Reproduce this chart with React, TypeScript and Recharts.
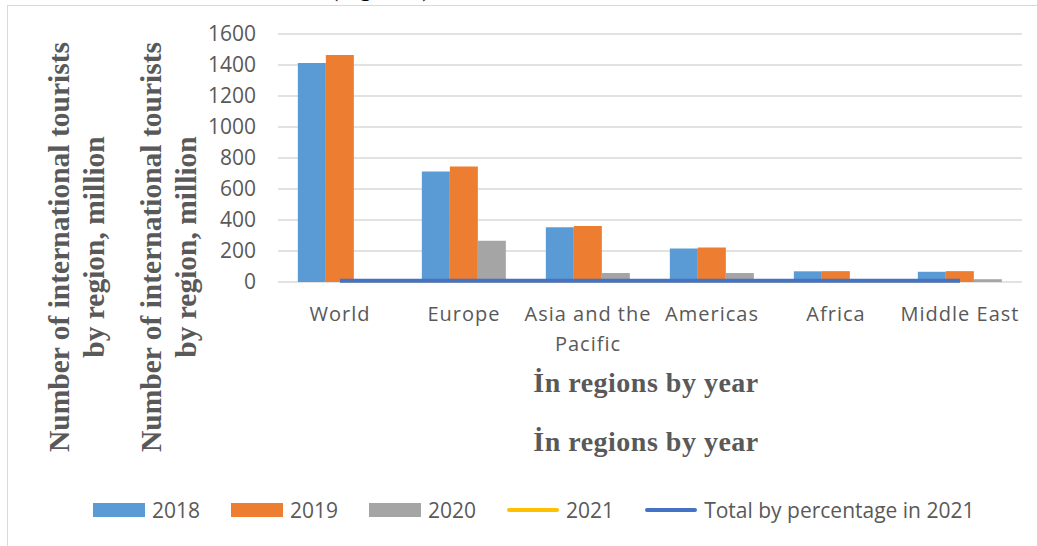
import { ComposedChart, Bar, Line, XAxis, YAxis, CartesianGrid, Legend } from 'recharts';

// international tourist arrivals, million
const regions = ['World', 'Europe', 'Asia and the Pacific', 'Americas', 'Africa', 'Middle East'];
const tourists2018 = [1413, 713, 353, 216, 69, 66];
const tourists2019 = [1465, 745, 362, 222, 70, 70];
const tourists2020 = [0, 266, 58, 58, 16, 18];
const tourists2021 = [6, 6, 6, 6, 6, 6];
const totalPct2021 = [8, 8, 8, 8, 8, 8];

const yTicks = [0, 200, 400, 600, 800, 1000, 1200, 1400, 1600];
const yTitleLines = ['Number of international tourists', 'by region, million'];
const xTitle = 'İn regions by year';

const seriesNames = ['2018', '2019', '2020', '2021', 'Total by percentage in 2021'];
const seriesKinds = ['bar', 'bar', 'bar', 'line', 'line'];
const colors = ['#5B9BD5', '#ED7D31', '#A5A5A5', '#FFC000', '#4472C4'];

const data = regions.map((region, i) => ({
  region,
  y2018: tourists2018[i],
  y2019: tourists2019[i],
  y2020: tourists2020[i],
  y2021: tourists2021[i],
  total: totalPct2021[i],
}));

const GREY = '#595959';
const SANS = "'Open Sans', sans-serif";
const SERIF = "'Liberation Serif', 'Times New Roman', serif";

function RegionTick({ x, y, payload }: any) {
  const label = String(payload.value);
  const words = label.split(' ');
  const lines = label.length > 14 ? [words.slice(0, -1).join(' '), words[words.length - 1]] : [label];
  return (
    <text x={x} y={y} textAnchor="middle" fill={GREY} fontSize={20} fontFamily={SANS} letterSpacing={1}>
      {lines.map((l, i) => (
        <tspan key={i} x={x} dy={i === 0 ? 39 : 30}>{l}</tspan>
      ))}
    </text>
  );
}

function LegendRow() {
  return (
    <div style={{ display: 'flex', alignItems: 'center', fontFamily: SANS, fontSize: 21, color: GREY, whiteSpace: 'nowrap' }}>
      {seriesNames.map((name, i) => (
        <div key={name} style={{ display: 'flex', alignItems: 'center', marginRight: 31 }}>
          {seriesKinds[i] === 'bar' ? (
            <span style={{ display: 'inline-block', width: 52, height: 14, background: colors[i] }} />
          ) : (
            <span style={{ display: 'inline-block', width: 52, height: 4, borderRadius: 2, background: colors[i] }} />
          )}
          <span style={{ marginLeft: 7 }}>{name}</span>
        </div>
      ))}
    </div>
  );
}

export default function App() {
  return (
    <div style={{ position: 'absolute', left: 0, top: 0, width: 1037, height: 546, overflow: 'hidden', background: '#fff' }}>
      <div style={{ position: 'absolute', left: 330, top: -26, fontFamily: SERIF, fontSize: 25, color: '#000', whiteSpace: 'nowrap' }}>
        (Figure 1)
      </div>
      <div style={{ position: 'absolute', left: 7, top: 5, width: 1100, height: 600, border: '1px solid #D9D9D9' }} />
      <div style={{ position: 'absolute', left: 0, top: 0 }}>
        <ComposedChart
          width={1037}
          height={546}
          data={data}
          margin={{ top: 34, right: 15, bottom: 204, left: 218 }}
          barCategoryGap="16%"
          barGap={0}
        >
          <CartesianGrid vertical={false} stroke="#D9D9D9" strokeWidth={1.5} />
          <XAxis
            dataKey="region"
            axisLine={false}
            tickLine={false}
            tickSize={0}
            tickMargin={0}
            interval={0}
            height={60}
            tick={<RegionTick />}
          />
          <YAxis
            domain={[0, 1600]}
            ticks={yTicks}
            axisLine={false}
            tickLine={false}
            tickSize={0}
            tickMargin={22}
            width={60}
            tick={{ fill: GREY, fontSize: 21, fontFamily: SANS }}
          />
          <Bar dataKey="y2018" name={seriesNames[0]} fill={colors[0]} isAnimationActive={false} />
          <Bar dataKey="y2019" name={seriesNames[1]} fill={colors[1]} isAnimationActive={false} />
          <Bar dataKey="y2020" name={seriesNames[2]} fill={colors[2]} isAnimationActive={false} />
          <Line dataKey="y2021" name={seriesNames[3]} stroke={colors[3]} strokeWidth={3} dot={false} isAnimationActive={false} />
          <Line dataKey="total" name={seriesNames[4]} stroke={colors[4]} strokeWidth={4} dot={false} isAnimationActive={false} />
          <Legend
            layout="horizontal"
            verticalAlign="middle"
            align="center"
            content={() => <LegendRow />}
            wrapperStyle={{ left: 93, top: 496, right: 'auto', bottom: 'auto', width: 'auto', height: 'auto' }}
          />
          {[0, 92].map((shift) => (
            <g key={shift}>
              {yTitleLines.map((line, i) => {
                const x = 69 + shift + i * 35;
                return (
                  <text
                    key={line}
                    x={x}
                    y={247}
                    transform={`rotate(-90, ${x}, 247)`}
                    textAnchor="middle"
                    fill={GREY}
                    fontFamily={SERIF}
                    fontWeight="bold"
                    fontSize={29.5}
                  >
                    {line}
                  </text>
                );
              })}
            </g>
          ))}
          {[392, 451].map((y) => (
            <text key={y} x={646} y={y} textAnchor="middle" fill={GREY} fontFamily={SERIF} fontWeight="bold" fontSize={28} letterSpacing={0.5}>
              {xTitle}
            </text>
          ))}
        </ComposedChart>
      </div>
    </div>
  );
}
